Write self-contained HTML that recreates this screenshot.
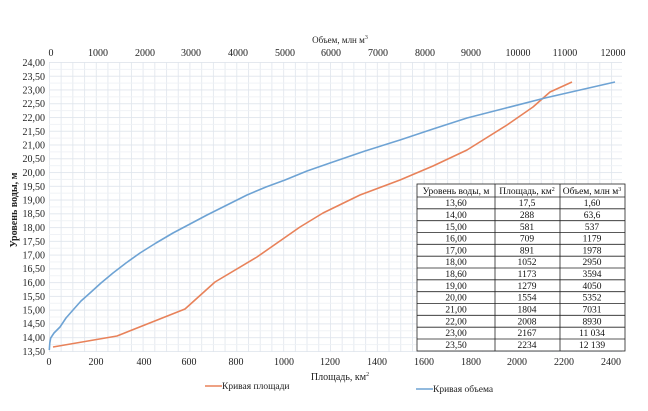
<!DOCTYPE html>
<html><head><meta charset="utf-8"><style>
html,body{margin:0;padding:0;background:#fff}
svg{display:block;font-family:"Liberation Serif",serif}
</style></head><body>
<svg width="648" height="411" viewBox="0 0 648 411" xmlns="http://www.w3.org/2000/svg">
<defs>
<pattern id="gv" x="49" y="0" width="11.71" height="411" patternUnits="userSpaceOnUse">
<line x1="0.4" y1="0" x2="0.4" y2="411" stroke="#dfe5ec" stroke-width="0.8"/>
</pattern>
<pattern id="gh" x="0" y="62" width="648" height="13.76" patternUnits="userSpaceOnUse">
<line x1="0" y1="0.4" x2="648" y2="0.4" stroke="#dfe5ec" stroke-width="0.8"/>
<line x1="0" y1="7.28" x2="648" y2="7.28" stroke="#eef1f5" stroke-width="0.8"/>
</pattern>
</defs>
<rect x="49" y="62" width="573" height="290" fill="url(#gv)"/>
<rect x="49" y="62" width="573" height="290" fill="url(#gh)"/>
<g font-size="10" fill="#222" text-anchor="end">
<text x="45" y="66">24,00</text><text x="45" y="80">23,50</text><text x="45" y="93.5">23,00</text><text x="45" y="107">22,50</text><text x="45" y="121">22,00</text><text x="45" y="135">21,50</text><text x="45" y="148.5">21,00</text><text x="45" y="162">20,50</text><text x="45" y="176">20,00</text><text x="45" y="190">19,50</text><text x="45" y="203.5">19,00</text><text x="45" y="217">18,50</text><text x="45" y="231">18,00</text><text x="45" y="245">17,50</text><text x="45" y="258.5">17,00</text><text x="45" y="272">16,50</text><text x="45" y="286">16,00</text><text x="45" y="300">15,50</text><text x="45" y="313.5">15,00</text><text x="45" y="327">14,50</text><text x="45" y="341">14,00</text><text x="45" y="355">13,50</text>
</g>
<g font-size="10" fill="#222" text-anchor="middle">
<text x="49" y="365">0</text><text x="96" y="365">200</text><text x="144" y="365">400</text><text x="189" y="365">600</text><text x="236" y="365">800</text><text x="284" y="365">1000</text><text x="330" y="365">1200</text><text x="377" y="365">1400</text><text x="424" y="365">1600</text><text x="471" y="365">1800</text><text x="517" y="365">2000</text><text x="564" y="365">2200</text><text x="611" y="365">2400</text>
</g>
<g font-size="10" fill="#222" text-anchor="middle">
<text x="51" y="56">0</text><text x="98" y="56">1000</text><text x="145" y="56">2000</text><text x="191" y="56">3000</text><text x="238" y="56">4000</text><text x="285" y="56">5000</text><text x="331" y="56">6000</text><text x="378" y="56">7000</text><text x="425" y="56">8000</text><text x="471" y="56">9000</text><text x="518" y="56">10000</text><text x="565" y="56">11000</text><text x="613" y="56">12000</text>
</g>
<text x="340" y="43" font-size="9" text-anchor="middle" fill="#222">Объем, млн м<tspan font-size="6" dy="-4">3</tspan></text>
<text x="340" y="380" font-size="10" text-anchor="middle" fill="#222">Площадь, км<tspan font-size="6" dy="-4">2</tspan></text>
<text transform="translate(17,210) rotate(-90)" font-size="10" font-weight="bold" text-anchor="middle" fill="#222">Уровень воды, м</text>
<polyline fill="none" stroke="#e8825a" stroke-width="1.6" stroke-linejoin="round" points="53,347 117,336 185,309 215,282 257,257 300,227 323,213 360,195 400,180 433,166 467,150 507,125 533,107 550,92 572,82"/>
<polyline fill="none" stroke="#6ea3d4" stroke-width="1.6" stroke-linejoin="round" points="49.3,350 49.8,343 50.7,338 54,333 60,327 66,318 73,310 81,301 90,293 101,283 113,273 126,263 140,253 156,243 173,233 190,224 207,215 227,205 247,195 266,187 285,180 307,171 330,163 365,151 400,140 433,129 467,118 506,108 545,98 580,90 615,82"/>
<rect x="417" y="184" width="208" height="167" fill="#fff" stroke="#222" stroke-width="0.8"/>
<g stroke="#222" stroke-width="0.8">
<line x1="495" y1="184" x2="495" y2="351"/><line x1="560" y1="184" x2="560" y2="351"/>
<line x1="417" y1="197" x2="625" y2="197"/><line x1="417" y1="208.8" x2="625" y2="208.8"/><line x1="417" y1="220.7" x2="625" y2="220.7"/><line x1="417" y1="232.5" x2="625" y2="232.5"/><line x1="417" y1="244.3" x2="625" y2="244.3"/><line x1="417" y1="256.2" x2="625" y2="256.2"/><line x1="417" y1="268" x2="625" y2="268"/><line x1="417" y1="279.8" x2="625" y2="279.8"/><line x1="417" y1="291.7" x2="625" y2="291.7"/><line x1="417" y1="303.5" x2="625" y2="303.5"/><line x1="417" y1="315.3" x2="625" y2="315.3"/><line x1="417" y1="327.2" x2="625" y2="327.2"/><line x1="417" y1="339" x2="625" y2="339"/>
</g>
<g font-size="9.5" fill="#111" text-anchor="middle">
<text x="456" y="194">Уровень воды, м</text><text x="527" y="194">Площадь, км<tspan font-size="6" dy="-3">2</tspan></text><text x="592" y="194">Объем, млн м<tspan font-size="6" dy="-3">3</tspan></text>
</g>
<g font-size="9.5" fill="#111" text-anchor="middle">
<text x="456" y="206">13,60</text><text x="527" y="206">17,5</text><text x="592" y="206">1,60</text>
<text x="456" y="218">14,00</text><text x="527" y="218">288</text><text x="592" y="218">63,6</text>
<text x="456" y="230">15,00</text><text x="527" y="230">581</text><text x="592" y="230">537</text>
<text x="456" y="241.5">16,00</text><text x="527" y="241.5">709</text><text x="592" y="241.5">1179</text>
<text x="456" y="253.5">17,00</text><text x="527" y="253.5">891</text><text x="592" y="253.5">1978</text>
<text x="456" y="265">18,00</text><text x="527" y="265">1052</text><text x="592" y="265">2950</text>
<text x="456" y="277">18,60</text><text x="527" y="277">1173</text><text x="592" y="277">3594</text>
<text x="456" y="289">19,00</text><text x="527" y="289">1279</text><text x="592" y="289">4050</text>
<text x="456" y="300.5">20,00</text><text x="527" y="300.5">1554</text><text x="592" y="300.5">5352</text>
<text x="456" y="312.5">21,00</text><text x="527" y="312.5">1804</text><text x="592" y="312.5">7031</text>
<text x="456" y="324.5">22,00</text><text x="527" y="324.5">2008</text><text x="592" y="324.5">8930</text>
<text x="456" y="336">23,00</text><text x="527" y="336">2167</text><text x="592" y="336">11 034</text>
<text x="456" y="348">23,50</text><text x="527" y="348">2234</text><text x="592" y="348">12 139</text>
</g>
<line x1="205" y1="386" x2="222" y2="386" stroke="#e8825a" stroke-width="1.6"/>
<text x="222" y="389" font-size="9.5" fill="#222">Кривая площади</text>
<line x1="416" y1="389" x2="433" y2="389" stroke="#6ea3d4" stroke-width="1.6"/>
<text x="433" y="392" font-size="9.5" fill="#222">Кривая объема</text>
</svg>
</body></html>
